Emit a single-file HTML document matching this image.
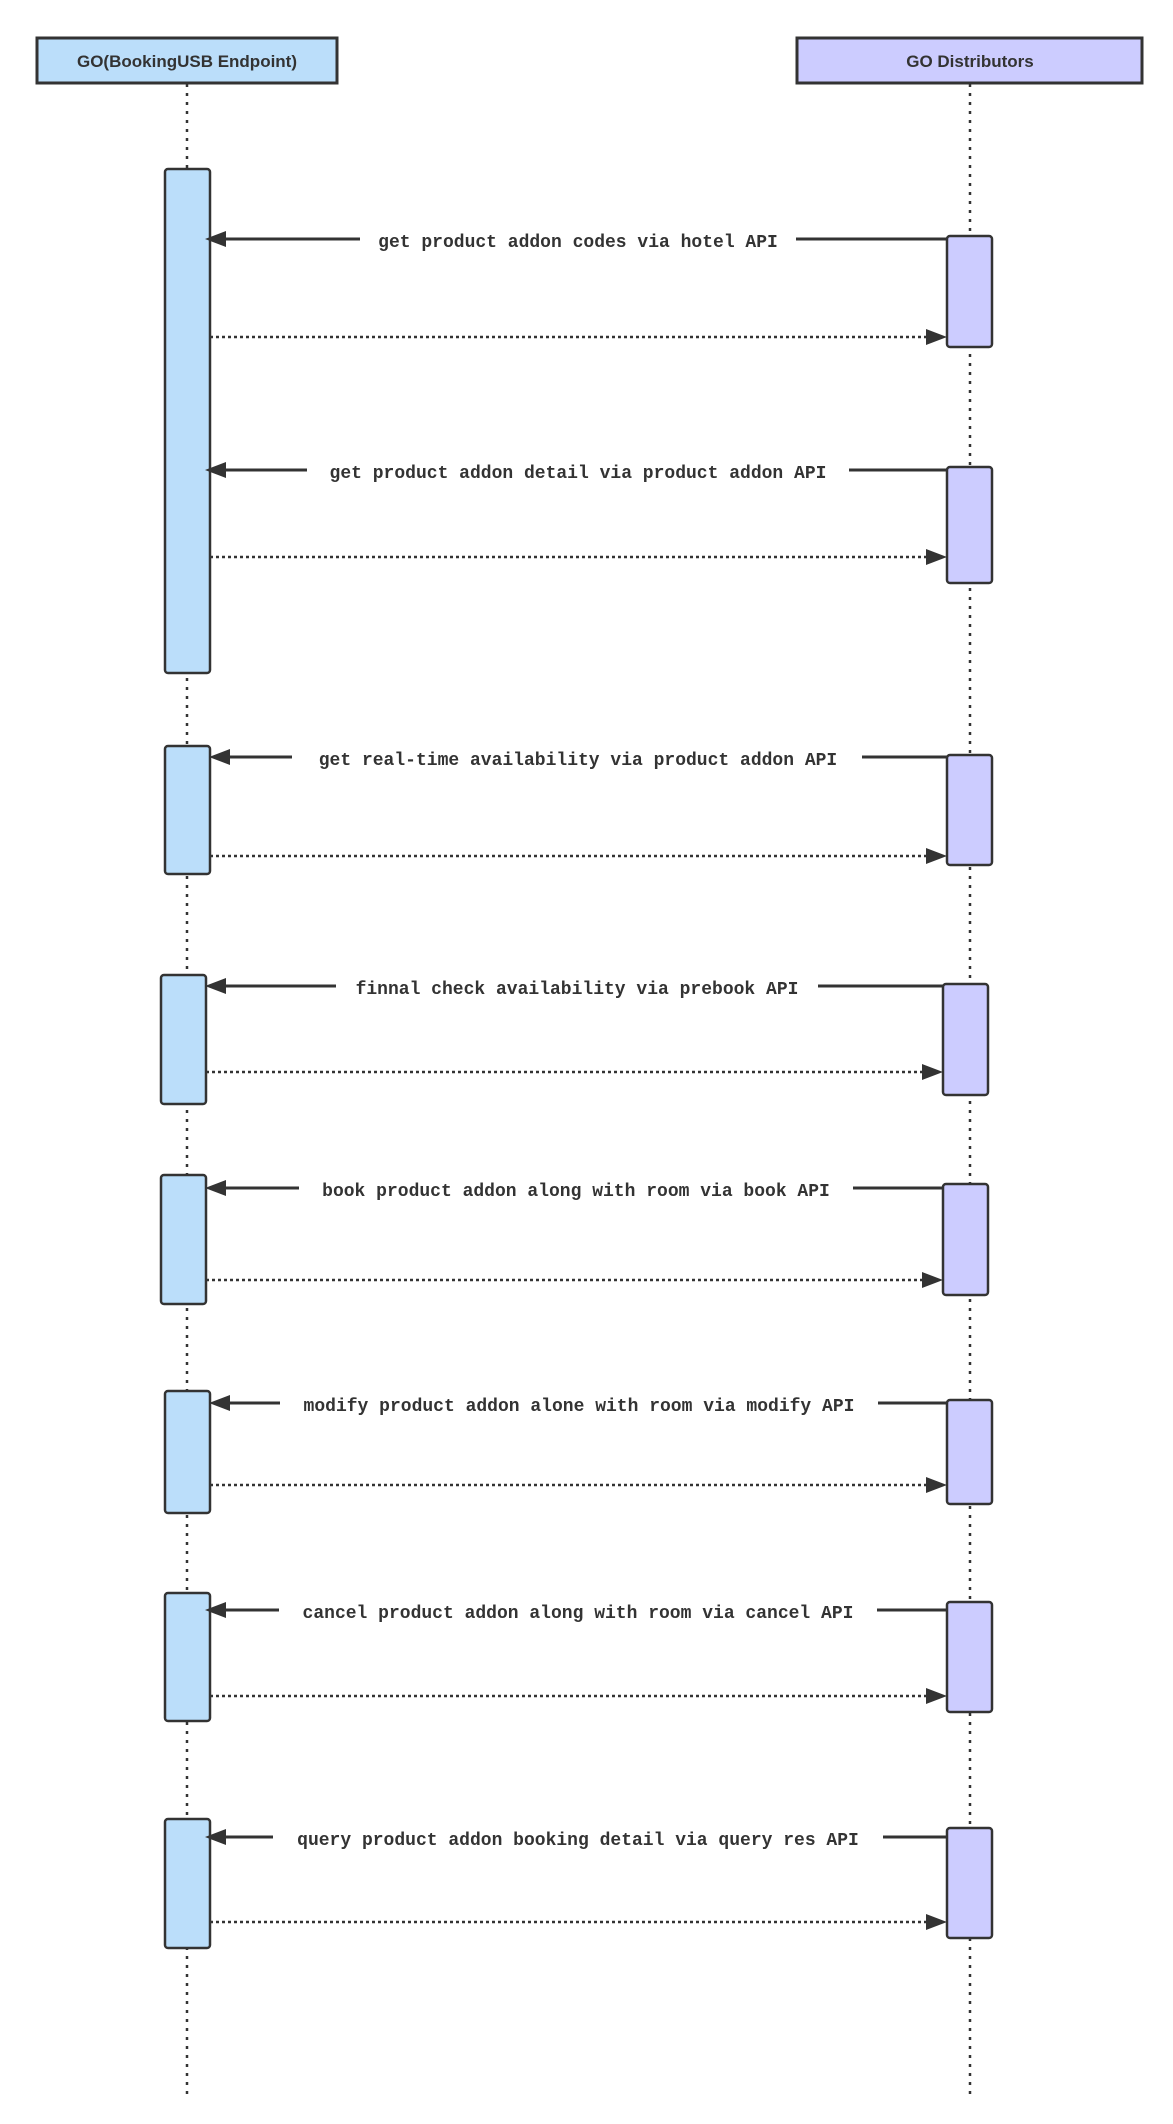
<!DOCTYPE html>
<html><head><meta charset="utf-8"><style>
html,body{margin:0;padding:0;background:#fff;}
svg{display:block;}
.h{font-family:"Liberation Sans",sans-serif;font-weight:bold;font-size:17px;fill:#333;}
.m{font-family:"Liberation Mono",monospace;font-weight:bold;font-size:18px;fill:#333;}
.ll{stroke:#333;stroke-width:2.5;stroke-dasharray:3,6;}
.ret{stroke:#333;stroke-width:2.5;stroke-dasharray:3,3;fill:none;}
.sol{stroke:#333;stroke-width:3;}
.a1{fill:#bbdefa;stroke:#333;stroke-width:2.5;}
.a2{fill:#ccccff;stroke:#333;stroke-width:2.5;}
</style></head><body>
<svg width="1173" height="2124" viewBox="0 0 1173 2124" xmlns="http://www.w3.org/2000/svg">
<line class="ll" x1="187" y1="84" x2="187" y2="2098"/>
<line class="ll" x1="970" y1="84" x2="970" y2="2098"/>
<rect x="37" y="38" width="300" height="45" fill="#bbdefa" stroke="#333" stroke-width="3"/>
<text class="h" x="187" y="67" text-anchor="middle">GO(BookingUSB Endpoint)</text>
<rect x="797" y="38" width="345" height="45" fill="#ccccff" stroke="#333" stroke-width="3"/>
<text class="h" x="970" y="67" text-anchor="middle">GO Distributors</text>

<!-- activations -->
<rect class="a1" x="165" y="169" width="45" height="504" rx="3"/>
<rect class="a2" x="947" y="236" width="45" height="111" rx="3"/>
<rect class="a2" x="947" y="467" width="45" height="116" rx="3"/>
<rect class="a1" x="165" y="746" width="45" height="128" rx="3"/>
<rect class="a2" x="947" y="755" width="45" height="110" rx="3"/>
<rect class="a1" x="161" y="975" width="45" height="129" rx="3"/>
<rect class="a2" x="943" y="984" width="45" height="111" rx="3"/>
<rect class="a1" x="161" y="1175" width="45" height="129" rx="3"/>
<rect class="a2" x="943" y="1184" width="45" height="111" rx="3"/>
<rect class="a1" x="165" y="1391" width="45" height="122" rx="3"/>
<rect class="a2" x="947" y="1400" width="45" height="104" rx="3"/>
<rect class="a1" x="165" y="1593" width="45" height="128" rx="3"/>
<rect class="a2" x="947" y="1602" width="45" height="110" rx="3"/>
<rect class="a1" x="165" y="1819" width="45" height="129" rx="3"/>
<rect class="a2" x="947" y="1828" width="45" height="110" rx="3"/>

<g id="msgs">
<!-- 1 -->
<line class="sol" x1="947" y1="239" x2="215" y2="239"/>
<polygon points="205,239 226,231 226,247" fill="#333"/>
<rect x="360" y="228" width="436" height="22" fill="#fff"/>
<text class="m" x="578" y="247" text-anchor="middle">get product addon codes via hotel API</text>
<line class="ret" x1="210" y1="337" x2="928" y2="337"/>
<polygon points="947,337 926,329 926,345" fill="#333"/>
<!-- 2 -->
<line class="sol" x1="947" y1="470" x2="215" y2="470"/>
<polygon points="205,470 226,462 226,478" fill="#333"/>
<rect x="307" y="459" width="542" height="22" fill="#fff"/>
<text class="m" x="578" y="478" text-anchor="middle">get product addon detail via product addon API</text>
<line class="ret" x1="210" y1="557" x2="928" y2="557"/>
<polygon points="947,557 926,549 926,565" fill="#333"/>
<!-- 3 -->
<line class="sol" x1="947" y1="757" x2="215" y2="757"/>
<polygon points="209,757 230,749 230,765" fill="#333"/>
<rect x="292" y="746" width="570" height="22" fill="#fff"/>
<text class="m" x="578" y="765" text-anchor="middle">get real-time availability via product addon API </text>
<line class="ret" x1="210" y1="856" x2="928" y2="856"/>
<polygon points="947,856 926,848 926,864" fill="#333"/>
<!-- 4 -->
<line class="sol" x1="943" y1="986" x2="211" y2="986"/>
<polygon points="205,986 226,978 226,994" fill="#333"/>
<rect x="336" y="975" width="482" height="22" fill="#fff"/>
<text class="m" x="577" y="994" text-anchor="middle">finnal check availability via prebook API</text>
<line class="ret" x1="206" y1="1072" x2="924" y2="1072"/>
<polygon points="943,1072 922,1064 922,1080" fill="#333"/>
<!-- 5 -->
<line class="sol" x1="943" y1="1188" x2="211" y2="1188"/>
<polygon points="205,1188 226,1180 226,1196" fill="#333"/>
<rect x="299" y="1177" width="554" height="22" fill="#fff"/>
<text class="m" x="576" y="1196" text-anchor="middle">book product addon along with room via book API</text>
<line class="ret" x1="206" y1="1280" x2="924" y2="1280"/>
<polygon points="943,1280 922,1272 922,1288" fill="#333"/>
<!-- 6 -->
<line class="sol" x1="947" y1="1403" x2="215" y2="1403"/>
<polygon points="209,1403 230,1395 230,1411" fill="#333"/>
<rect x="280" y="1392" width="598" height="22" fill="#fff"/>
<text class="m" x="579" y="1411" text-anchor="middle">modify product addon alone with room via modify API</text>
<line class="ret" x1="210" y1="1485" x2="928" y2="1485"/>
<polygon points="947,1485 926,1477 926,1493" fill="#333"/>
<!-- 7 -->
<line class="sol" x1="947" y1="1610" x2="215" y2="1610"/>
<polygon points="205,1610 226,1602 226,1618" fill="#333"/>
<rect x="279" y="1599" width="598" height="22" fill="#fff"/>
<text class="m" x="578" y="1618" text-anchor="middle">cancel product addon along with room via cancel API</text>
<line class="ret" x1="210" y1="1696" x2="928" y2="1696"/>
<polygon points="947,1696 926,1688 926,1704" fill="#333"/>
<!-- 8 -->
<line class="sol" x1="947" y1="1837" x2="215" y2="1837"/>
<polygon points="205,1837 226,1829 226,1845" fill="#333"/>
<rect x="273" y="1826" width="610" height="22" fill="#fff"/>
<text class="m" x="578" y="1845" text-anchor="middle">query product addon booking detail via query res API</text>
<line class="ret" x1="210" y1="1922" x2="928" y2="1922"/>
<polygon points="947,1922 926,1914 926,1930" fill="#333"/>
</g>
</svg>
</body></html>
